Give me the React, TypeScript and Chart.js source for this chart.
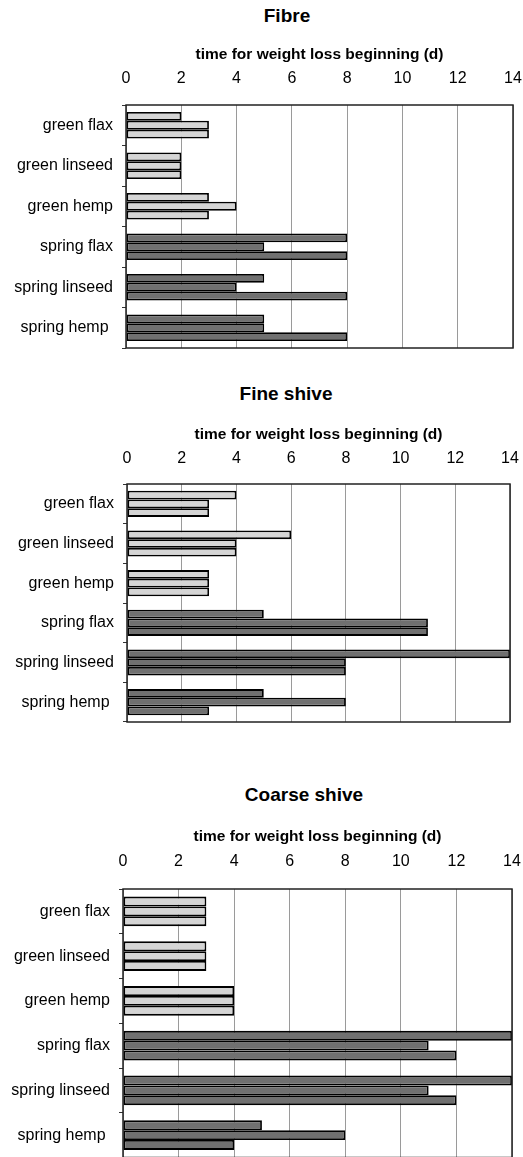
import { useEffect, useRef } from "react";
import { Chart, registerables } from "chart.js";

Chart.register(...registerables);

const FONT = '"Liberation Sans", Arial, Helvetica, sans-serif';

// ---- data ----
const categories = ["green flax", "green linseed", "green hemp", "spring flax", "spring linseed", "spring hemp "];
const axisTitle = "time for weight loss beginning (d)";
const xMin = 0;
const xMax = 14;
const xStep = 2;

const fibreRep1 = [2, 2, 3, 8, 5, 5];
const fibreRep2 = [3, 2, 4, 5, 4, 5];
const fibreRep3 = [3, 2, 3, 8, 8, 8];

const fineRep1 = [4, 6, 3, 5, 14, 5];
const fineRep2 = [3, 4, 3, 11, 8, 8];
const fineRep3 = [3, 4, 3, 11, 8, 3];

const coarseRep1 = [3, 3, 4, 14, 14, 5];
const coarseRep2 = [3, 3, 4, 11, 11, 8];
const coarseRep3 = [3, 3, 4, 12, 12, 4];

const panelTitles = ["Fibre", "Fine shive", "Coarse shive"];
const panelSeries = [
  [fibreRep1, fibreRep2, fibreRep3],
  [fineRep1, fineRep2, fineRep3],
  [coarseRep1, coarseRep2, coarseRep3],
];

// ---- styles / layout ----
const LIGHT = "#d5d5d5";
const DARK = "#707070";
const W = 523;
const TITLE_SIZE = 19;
const AXIS_TITLE_SIZE = 15.5;
const TICK_SIZE = 16;

type Layout = {
  top: number;
  height: number;
  titleMid: number;
  titleX: number;
  axisMid: number;
  tickMid: number;
  left: number;
  right: number;
  areaTop: number;
  areaBottom: number;
};

const layouts: Layout[] = [
  { top: 0, height: 350, titleMid: 16, titleX: 287, axisMid: 55, tickMid: 79, left: 126, right: 513, areaTop: 105, areaBottom: 348 },
  { top: 380, height: 344, titleMid: 14.5, titleX: 286, axisMid: 54.6, tickMid: 78.8, left: 127, right: 510, areaTop: 104, areaBottom: 342 },
  { top: 780, height: 380, titleMid: 15.5, titleX: 304, axisMid: 56.3, tickMid: 81.5, left: 123, right: 512, areaTop: 109, areaBottom: 377.5 },
];

const framePlugin = {
  id: "frame",
  afterDatasetsDraw(chart: any) {
    const { ctx, chartArea } = chart;
    ctx.save();
    ctx.strokeStyle = "#222";
    ctx.lineWidth = 1.5;
    ctx.strokeRect(chartArea.left, chartArea.top, chartArea.right - chartArea.left, chartArea.bottom - chartArea.top);
    ctx.restore();
  },
};

function zeroPadding(scale: any) {
  scale.paddingLeft = 0;
  scale.paddingRight = 0;
  scale.paddingTop = 0;
  scale.paddingBottom = 0;
}

function buildConfig(series: number[][], L: Layout): any {
  const titleLH = TITLE_SIZE * 1.2;
  const xTop = L.titleMid + titleLH / 2;
  const axisLH = AXIS_TITLE_SIZE * 1.2;
  const axisPadTop = L.axisMid - axisLH / 2 - xTop;
  const tickLH = TICK_SIZE * 1.2;
  const tickPad = L.areaTop - L.tickMid - tickLH / 2;
  const xHeight = L.areaTop - xTop;
  const colors = categories.map((c) => (c.startsWith("green") ? LIGHT : DARK));

  return {
    type: "bar",
    data: {
      labels: categories,
      datasets: series.map((s, i) => ({
        label: "replicate " + (i + 1),
        data: s,
        backgroundColor: colors,
        borderColor: "#000",
        borderWidth: 1.8,
        borderSkipped: false,
        categoryPercentage: 0.66,
        barPercentage: 1,
      })),
    },
    options: {
      indexAxis: "y",
      animation: false,
      responsive: false,
      devicePixelRatio: 1,
      layout: {
        padding: { left: 0, right: W - L.right, top: xTop, bottom: L.height - L.areaBottom },
      },
      plugins: {
        legend: { display: false },
        tooltip: { enabled: false },
        title: { display: false },
      },
      scales: {
        x: {
          position: "top",
          min: xMin,
          max: xMax,
          ticks: {
            stepSize: xStep,
            color: "#000",
            padding: tickPad,
            font: { family: FONT, size: TICK_SIZE },
          },
          grid: { color: "#9a9a9a", lineWidth: 1, drawTicks: false },
          border: { display: false },
          title: {
            display: true,
            text: axisTitle,
            color: "#000",
            font: { family: FONT, size: AXIS_TITLE_SIZE, weight: "bold" },
            padding: { top: axisPadTop, bottom: 0 },
          },
          afterFit(scale: any) {
            scale.height = xHeight;
            zeroPadding(scale);
          },
        },
        y: {
          ticks: {
            color: "#000",
            padding: 9,
            font: { family: FONT, size: TICK_SIZE },
          },
          grid: { drawOnChartArea: false, drawTicks: true, tickLength: 4, color: "#333", offset: true },
          border: { display: false },
          afterFit(scale: any) {
            scale.width = L.left;
            zeroPadding(scale);
          },
        },
      },
    },
    plugins: [framePlugin],
  };
}

function Panel({ index }: { index: number }) {
  const ref = useRef<HTMLCanvasElement | null>(null);
  const L = layouts[index];
  useEffect(() => {
    if (!ref.current) return;
    const chart = new Chart(ref.current, buildConfig(panelSeries[index], L));
    return () => chart.destroy();
  }, [index]);
  const titleLH = TITLE_SIZE * 1.2;
  return (
    <>
      <div
        style={{
          position: "absolute",
          left: L.titleX - 150,
          top: L.top + L.titleMid - titleLH / 2,
          width: 300,
          textAlign: "center",
          fontFamily: FONT,
          fontWeight: "bold",
          fontSize: TITLE_SIZE,
          lineHeight: titleLH + "px",
          color: "#000",
          whiteSpace: "nowrap",
        }}
      >
        {panelTitles[index]}
      </div>
      <canvas
        ref={ref}
        width={W}
        height={L.height}
        style={{ position: "absolute", left: 0, top: L.top, width: W, height: L.height }}
      />
    </>
  );
}

export default function App() {
  return (
    <div
      style={{
        position: "absolute",
        left: 0,
        top: 0,
        width: W,
        height: 1157,
        overflow: "hidden",
        background: "#fff",
      }}
    >
      <Panel index={0} />
      <Panel index={1} />
      <Panel index={2} />
    </div>
  );
}
